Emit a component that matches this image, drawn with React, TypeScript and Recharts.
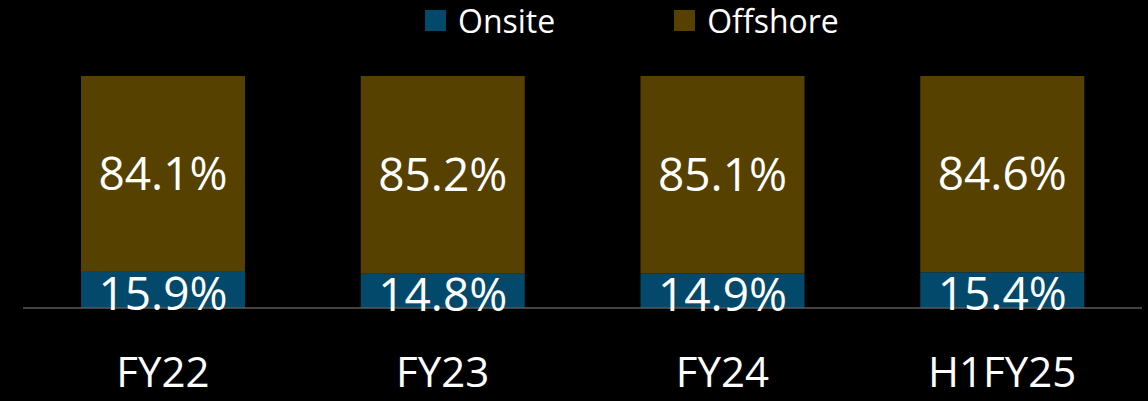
import { BarChart, Bar, XAxis, YAxis, Legend, LabelList } from 'recharts';

const categories = ['FY22', 'FY23', 'FY24', 'H1FY25'];
const onsite = [15.9, 14.8, 14.9, 15.4];
const offshore = [84.1, 85.2, 85.1, 84.6];
const legendOrder = ['Onsite', 'Offshore'];

const FONT = "'Open Sans', sans-serif";
const ONSITE_COLOR = '#03496b';
const OFFSHORE_COLOR = '#564100';

const data = categories.map((name, i) => ({ name, onsite: onsite[i], offshore: offshore[i] }));

const pct = (v: any) => `${Number(v).toFixed(1)}%`;

const CategoryTick = ({ x, y, payload }: any) => (
    <text x={x} y={y} dy={77} textAnchor="middle" fill="#fff" fontSize={42} fontFamily={FONT}>
        {payload.value}
    </text>
);

const LegendContent = ({ payload }: any) => {
    const items = [...(payload || [])].sort((a: any, b: any) => legendOrder.indexOf(a.value) - legendOrder.indexOf(b.value));
    return (
        <div style={{ display: 'flex', alignItems: 'center', fontFamily: FONT, fontSize: 32, color: '#fff' }}>
            {items.map((e: any, i: number) => (
                <div key={i} style={{ display: 'flex', alignItems: 'center', marginRight: i === 0 ? 119 : 0 }}>
                    <span style={{ width: 21, height: 21, background: e.color, marginRight: 12, display: 'inline-block' }} />
                    <span>{e.value}</span>
                </div>
            ))}
        </div>
    );
};

export default function App() {
    return (
        <div style={{ width: 1148, height: 401, background: '#000' }}>
            <style>{`body{margin:0;background:#000}`}</style>
            <BarChart width={1148} height={401} data={data} margin={{ top: 76, right: 6, bottom: 0, left: 23 }} barSize={164}>
                <XAxis
                    dataKey="name"
                    height={93}
                    tickLine={false}
                    tickSize={0}
                    tick={<CategoryTick />}
                    axisLine={{ stroke: '#595959', strokeWidth: 1.5 }}
                    interval={0}
                />
                <YAxis hide domain={[0, 100]} />
                <Legend
                    layout="horizontal"
                    verticalAlign="middle"
                    align="center"
                    wrapperStyle={{ top: -1, left: 425, width: 'auto' }}
                    content={<LegendContent />}
                />
                <Bar dataKey="onsite" name="Onsite" stackId="a" fill={ONSITE_COLOR} isAnimationActive={false}>
                    <LabelList dataKey="onsite" position="center" formatter={pct} fill="#fff" fontSize={46} fontFamily={FONT} dy={4} />
                </Bar>
                <Bar dataKey="offshore" name="Offshore" stackId="a" fill={OFFSHORE_COLOR} isAnimationActive={false}>
                    <LabelList dataKey="offshore" position="center" formatter={pct} fill="#fff" fontSize={46} fontFamily={FONT} />
                </Bar>
            </BarChart>
        </div>
    );
}
